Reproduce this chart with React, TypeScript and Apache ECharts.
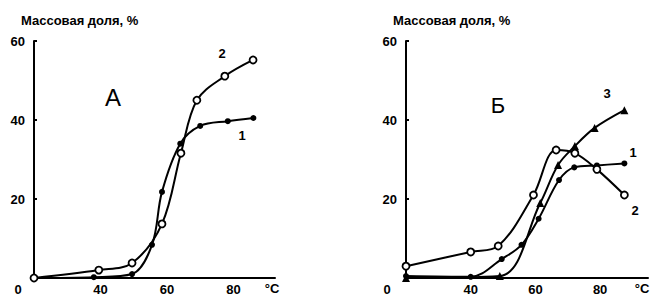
import React, { useEffect, useRef } from "react";
import * as echarts from "echarts";

// Panel A data: [temperature °C, mass fraction %]
const panelA1: number[][] = [[20, 0], [38, 0.2], [49.5, 1], [55.5, 8.4], [58.5, 21.8], [64, 34], [70, 38.5], [78.3, 39.7], [86, 40.5]];
const panelA2: number[][] = [[20, 0], [39.5, 2], [49.5, 3.8], [58.5, 13.7], [64.2, 31.6], [69, 45], [77.4, 51.1], [85.9, 55.2]];
// Panel Б data
const panelB1: number[][] = [[20, 0.5], [40, 0.3], [49.6, 4.8], [55.7, 8.4], [61, 15], [67.3, 24.8], [72, 28], [79, 28.5], [87.5, 29]];
const panelB2: number[][] = [[20, 3], [40, 6.6], [48.5, 8.1], [59.4, 21], [66.4, 32.4], [72.2, 31.6], [79, 27.5], [87.5, 21]];
const panelB3: number[][] = [[20, 0], [49, 0.5], [61.5, 19], [67, 28.6], [72.2, 33.4], [78.3, 38], [87.5, 42.5]];

const xTickLabels = [40, 60, 80];
const yTickLabels = [20, 40, 60];
const yTitle = "Массовая доля, %";
const xUnit = "°C";

const FONT = "Liberation Sans";

function makeXAxis(gridIndex: number, max: number) {
  return {
    type: "value",
    gridIndex,
    min: 20,
    max,
    interval: 20,
    axisLine: { show: true, lineStyle: { color: "#000", width: 2 } },
    axisTick: { show: false },
    splitLine: { show: false },
    axisLabel: {
      color: "#000",
      fontFamily: FONT,
      fontWeight: "bold",
      fontSize: 13,
      margin: 5,
      formatter: (v: number) => (xTickLabels.includes(v) ? String(v) : ""),
    },
  };
}

function makeYAxis(gridIndex: number) {
  return {
    type: "value",
    gridIndex,
    min: 0,
    max: 60,
    interval: 20,
    axisLine: { show: true, lineStyle: { color: "#000", width: 2 } },
    axisTick: { show: true, inside: true, length: 3, lineStyle: { color: "#000", width: 2 } },
    splitLine: { show: false },
    axisLabel: {
      color: "#000",
      fontFamily: FONT,
      fontWeight: "bold",
      fontSize: 13,
      margin: 9,
      formatter: (v: number) => (yTickLabels.includes(v) ? String(v) : ""),
    },
  };
}

function makeSeries(data: number[][], idx: number, symbol: string, size: number, hollow: boolean) {
  return {
    type: "line",
    xAxisIndex: idx,
    yAxisIndex: idx,
    data,
    smooth: 0.35,
    symbol,
    symbolSize: size,
    showSymbol: true,
    lineStyle: { color: "#000", width: 2, type: "solid" },
    itemStyle: { color: hollow ? "#fff" : "#000", borderColor: "#000", borderWidth: hollow ? 1.8 : 0 },
    emphasis: { disabled: true },
  };
}

function txt(x: number, y: number, text: string, size: number, weight: string = "bold", align: string = "center") {
  return {
    type: "text",
    x,
    y,
    style: {
      text,
      fill: "#000",
      font: `${weight} ${size}px ${FONT}`,
      textAlign: align,
      textVerticalAlign: "middle",
    },
  };
}

export default function App() {
  const ref = useRef<HTMLDivElement>(null);
  useEffect(() => {
    if (!ref.current) return;
    const chart = echarts.init(ref.current, null, { renderer: "svg" });
    chart.setOption({
      animation: false,
      backgroundColor: "#fff",
      grid: [
        { left: 34, top: 41, width: 241, bottom: 21 },
        { left: 406, top: 41, width: 245, bottom: 21 },
      ],
      xAxis: [makeXAxis(0, 92.5), makeXAxis(1, 94.8)],
      yAxis: [makeYAxis(0), makeYAxis(1)],
      series: [
        makeSeries(panelA1, 0, "circle", 6, false),
        makeSeries(panelA2, 0, "circle", 7, true),
        makeSeries(panelB1, 1, "circle", 6, false),
        makeSeries(panelB2, 1, "circle", 7, true),
        makeSeries(panelB3, 1, "triangle", 8, false),
      ],
      graphic: [
        txt(21, 20, yTitle, 13, "bold", "left"),
        txt(393, 20, yTitle, 13, "bold", "left"),
        txt(113, 97, "А", 24, "normal"),
        txt(498, 105, "Б", 22, "normal"),
        txt(222, 53, "2", 13),
        txt(242, 135, "1", 13),
        txt(607, 93, "3", 13),
        txt(633, 152, "1", 13),
        txt(635, 210, "2", 13),
        txt(18, 289, "0", 13),
        txt(387, 289, "0", 13),
        txt(272, 288, xUnit, 13),
        txt(642, 288, xUnit, 13),
      ],
    });
    return () => chart.dispose();
  }, []);
  return (
    <div
      ref={ref}
      style={{ position: "fixed", left: 0, top: 0, width: 651, height: 299, background: "#fff" }}
    />
  );
}
